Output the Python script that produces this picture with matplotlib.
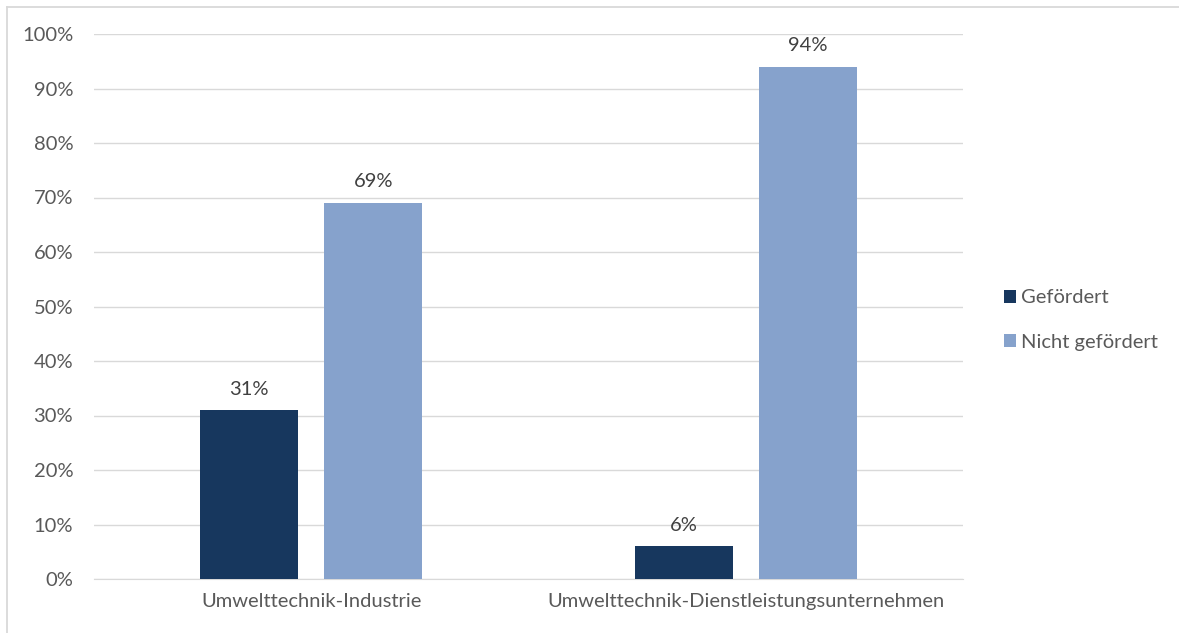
import matplotlib
matplotlib.use("Agg")
import matplotlib.pyplot as plt
from matplotlib.lines import Line2D
import numpy as np

categories = ["Umwelttechnik-Industrie", "Umwelttechnik-Dienstleistungsunternehmen"]
series_names = ["Gefördert", "Nicht gefördert"]
gefoerdert = [31, 6]
nicht_gefoerdert = [69, 94]
yticks = [0, 10, 20, 30, 40, 50, 60, 70, 80, 90, 100]

colors = ["#17375E", "#86A2CC"]
text_color = "#595959"
plt.rcParams['font.family'] = ['Lato', 'DejaVu Sans']
FS = 14.5

fig = plt.figure(figsize=(11.79, 6.33), dpi=100)
ax = fig.add_axes([94/1179, 1-579/633, (963-94)/1179, (579-34)/633])

x = np.arange(len(categories))
w = 0.2255
off = 0.1427
b1 = ax.bar(x - off, gefoerdert, w, color=colors[0], label=series_names[0], zorder=3)
b2 = ax.bar(x + off, nicht_gefoerdert, w, color=colors[1], label=series_names[1], zorder=3)
for bars, vals in ((b1, gefoerdert), (b2, nicht_gefoerdert)):
    for r, v in zip(bars, vals):
        ax.annotate(f"{v}%", (r.get_x() + r.get_width()/2, v), xytext=(0, 9),
                    textcoords="offset points", ha="center", va="bottom",
                    fontsize=FS, color="#404040", zorder=4)

ax.set_xlim(-0.5, 1.5)
ax.set_ylim(0, 100)
ax.set_yticks(yticks)
ax.set_yticklabels([f"{t}%" for t in yticks], fontsize=FS, color=text_color)
ax.set_xticks(x)
ax.set_xticklabels(categories, fontsize=FS, color=text_color)
ax.tick_params(axis='both', length=0)
ax.tick_params(axis='y', pad=15)
ax.tick_params(axis='x', pad=10)
ax.grid(axis='y', color="#D9D9D9", linewidth=1, zorder=0)
for s in ["top", "right", "left"]:
    ax.spines[s].set_visible(False)
ax.spines["bottom"].set_color("#D9D9D9")

leg = fig.legend(loc="center left", bbox_to_anchor=(986/1179, 1-320/633), frameon=False,
                 fontsize=FS, handlelength=0.6, handleheight=0.6, handletextpad=0.25,
                 labelspacing=1.35, labelcolor=text_color)

# outer border (left and top visible, rest cropped)
fig.add_artist(Line2D([6.5/1179, 6.5/1179], [0, 1-7/633], transform=fig.transFigure,
                      color="#D9D9D9", linewidth=1.3))
fig.add_artist(Line2D([6.5/1179, 1], [1-7/633, 1-7/633], transform=fig.transFigure,
                      color="#D9D9D9", linewidth=1.3))

fig.savefig("out.png", dpi=100)
